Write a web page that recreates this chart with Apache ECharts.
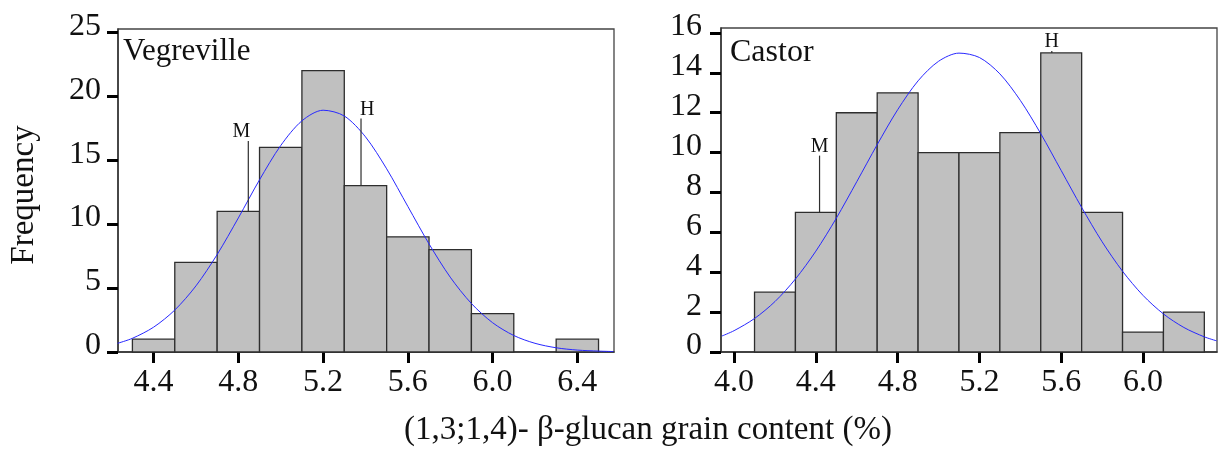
<!DOCTYPE html>
<html>
<head>
<meta charset="utf-8">
<script src="https://cdn.jsdelivr.net/npm/echarts@6/dist/echarts.min.js"></script>
<style>
  html, body { margin: 0; padding: 0; background: #fff; }
  #chart { width: 1224px; height: 454px; }
</style>
</head>
<body>
<div id="chart"></div>
<script>
// Histogram bins (left edge of each 0.2-wide class) and frequencies
const binWidth = 0.2;
const vegBinStart = [4.3, 4.5, 4.7, 4.9, 5.1, 5.3, 5.5, 5.7, 5.9, 6.1, 6.3];
const vegCounts   = [1, 7, 11, 16, 22, 13, 9, 8, 3, 0, 1];
const casBinStart = [4.1, 4.3, 4.5, 4.7, 4.9, 5.1, 5.3, 5.5, 5.7, 5.9, 6.1];
const casCounts   = [3, 7, 12, 13, 10, 10, 11, 15, 7, 1, 2];

// Fitted normal curves
const vegCurveX = [4.23, 4.3, 4.4, 4.5, 4.6, 4.7, 4.8, 4.9, 5.0, 5.1, 5.2, 5.3, 5.4, 5.5, 5.6, 5.7, 5.8, 5.9, 6.0, 6.1, 6.2, 6.3, 6.4, 6.5, 6.57];
const vegCurveY = [0.68, 1.07, 1.94, 3.28, 5.17, 7.62, 10.48, 13.46, 16.14, 18.07, 18.90, 18.45, 16.82, 14.32, 11.38, 8.45, 5.85, 3.79, 2.29, 1.29, 0.68, 0.33, 0.15, 0.07, 0.035];
const casCurveX = [3.94, 4.0, 4.1, 4.2, 4.3, 4.4, 4.5, 4.6, 4.7, 4.8, 4.9, 5.0, 5.1, 5.2, 5.3, 5.4, 5.5, 5.6, 5.7, 5.8, 5.9, 6.0, 6.1, 6.2, 6.3, 6.36];
const casCurveY = [0.80, 1.07, 1.68, 2.53, 3.66, 5.06, 6.71, 8.54, 10.40, 12.15, 13.60, 14.58, 14.99, 14.77, 13.95, 12.62, 10.95, 9.10, 7.25, 5.53, 4.05, 2.84, 1.91, 1.23, 0.76, 0.56];

// Cultivar markers: position, bar top, pointer top
const vegMarkerLabels = ['M', 'H'];
const vegMarkerX      = [4.847, 5.379];
const vegMarkerBase   = [11, 13];
const vegMarkerTop    = [16.5, 18.26];
const casMarkerLabels = ['M', 'H'];
const casMarkerX      = [4.418, 5.554];
const casMarkerBase   = [7, 15];
const casMarkerTop    = [9.85, 15.1];

// Tick values
const vegXTicks = [4.4, 4.8, 5.2, 5.6, 6.0, 6.4];
const vegYTicks = [0, 5, 10, 15, 20, 25];
const casXTicks = [4.0, 4.4, 4.8, 5.2, 5.6, 6.0];
const casYTicks = [0, 2, 4, 6, 8, 10, 12, 14, 16];

const panelNames = ['Vegreville', 'Castor'];
const yTitle = 'Frequency';
const xTitle = '(1,3;1,4)- \u03b2-glucan grain content (%)';

const SERIF = "'Liberation Serif', 'Times New Roman', serif";

function binData(starts, counts) {
  return starts.map((s, i) => [s, s + binWidth, counts[i]]);
}
function zip(a, b) { return a.map((v, i) => [v, b[i]]); }

function histSeries(idx, data) {
  return {
    type: 'custom',
    xAxisIndex: idx, yAxisIndex: idx,
    data: data,
    encode: { x: [0, 1], y: 2 },
    renderItem: function (params, api) {
      const v = api.value(2);
      if (!v) return null;
      const p0 = api.coord([api.value(0), 0]);
      const p1 = api.coord([api.value(1), v]);
      return {
        type: 'rect',
        shape: { x: p0[0], y: p1[1], width: p1[0] - p0[0], height: p0[1] - p1[1] },
        style: { fill: '#c0c0c0', stroke: '#2e2e2e', lineWidth: 1.3 }
      };
    },
    z: 2
  };
}

function curveSeries(idx, xs, ys) {
  return {
    type: 'line',
    xAxisIndex: idx, yAxisIndex: idx,
    data: zip(xs, ys),
    smooth: 0.3,
    showSymbol: false,
    lineStyle: { color: '#2828ff', width: 1 },
    z: 4,
    silent: true
  };
}

function markerSeries(idx, labels, xs, bases, tops, aligns) {
  return {
    type: 'custom',
    xAxisIndex: idx, yAxisIndex: idx,
    data: xs.map((x, i) => [x, bases[i], tops[i]]),
    encode: { x: 0, y: [1, 2] },
    renderItem: function (params, api) {
      const i = params.dataIndex;
      const pb = api.coord([api.value(0), api.value(1)]);
      const pt = api.coord([api.value(0), api.value(2)]);
      const a = aligns[i];
      const tx = a === 'right' ? pt[0] + 2 : (a === 'left' ? pt[0] - 1 : pt[0]);
      return {
        type: 'group',
        children: [
          {
            type: 'line',
            shape: { x1: pb[0], y1: pb[1], x2: pt[0], y2: pt[1] },
            style: { stroke: '#2e2e2e', lineWidth: 1.2 }
          },
          {
            type: 'text',
            x: tx, y: pt[1] + 1,
            style: {
              text: labels[i],
              font: '20px ' + SERIF,
              fill: '#111',
              align: a,
              verticalAlign: 'bottom'
            }
          }
        ]
      };
    },
    z: 5
  };
}

function xAxisCfg(idx, min, max, ticks) {
  return {
    type: 'value', gridIndex: idx, min: min, max: max,
    splitLine: { show: false },
    axisLine: { show: true, onZero: false, lineStyle: { color: '#333', width: 1.5 } },
    axisTick: { show: true, inside: false, length: 11, customValues: ticks,
                lineStyle: { color: '#000', width: 3 } },
    axisLabel: { customValues: ticks, margin: 15, color: '#111',
                 fontFamily: SERIF, fontSize: 32,
                 formatter: v => v.toFixed(1) }
  };
}

function yAxisCfg(idx, max, ticks, margin) {
  return {
    type: 'value', gridIndex: idx, min: 0, max: max,
    splitLine: { show: false },
    axisLine: { show: true, onZero: false, lineStyle: { color: '#333', width: 1.5 } },
    axisTick: { show: true, inside: false, length: 11, customValues: ticks,
                lineStyle: { color: '#000', width: 3 } },
    axisLabel: { customValues: ticks, margin: margin, color: '#111',
                 fontFamily: SERIF, fontSize: 32,
                 verticalAlign: 'bottom', lineHeight: 12,
                 formatter: v => String(v) }
  };
}

const chart = echarts.init(document.getElementById('chart'), null, { renderer: 'canvas' });

chart.setOption({
  backgroundColor: '#fff',
  animation: false,
  grid: [
    { left: 118, top: 29, width: 496, height: 323, show: true,
      borderColor: '#444', borderWidth: 1.3, backgroundColor: '#fff' },
    { left: 721, top: 28, width: 496, height: 324, show: true,
      borderColor: '#444', borderWidth: 1.3, backgroundColor: '#fff' }
  ],
  xAxis: [
    xAxisCfg(0, 4.232, 6.573, vegXTicks),
    xAxisCfg(1, 3.936, 6.362, casXTicks)
  ],
  yAxis: [
    yAxisCfg(0, 25.25, vegYTicks, 17),
    yAxisCfg(1, 16.25, casYTicks, 19)
  ],
  series: [
    histSeries(0, binData(vegBinStart, vegCounts)),
    curveSeries(0, vegCurveX, vegCurveY),
    markerSeries(0, vegMarkerLabels, vegMarkerX, vegMarkerBase, vegMarkerTop, ['right', 'left']),
    histSeries(1, binData(casBinStart, casCounts)),
    curveSeries(1, casCurveX, casCurveY),
    markerSeries(1, casMarkerLabels, casMarkerX, casMarkerBase, casMarkerTop, ['center', 'center'])
  ],
  graphic: [
    { type: 'text', x: 123, y: 67.5, z: 10,
      style: { text: panelNames[0], font: '31px ' + SERIF, fill: '#111',
               align: 'left', verticalAlign: 'bottom' } },
    { type: 'text', x: 730, y: 69, z: 10,
      style: { text: panelNames[1], font: '32px ' + SERIF, fill: '#111',
               align: 'left', verticalAlign: 'bottom' } },
    { type: 'text', x: 24, y: 195, rotation: Math.PI / 2, z: 10,
      style: { text: yTitle, font: '33px ' + SERIF, fill: '#111',
               align: 'center', verticalAlign: 'middle' } },
    { type: 'text', x: 648, y: 447, z: 10,
      style: { text: xTitle, font: '33px ' + SERIF, fill: '#111',
               align: 'center', verticalAlign: 'bottom' } }
  ]
});
</script>
</body>
</html>
